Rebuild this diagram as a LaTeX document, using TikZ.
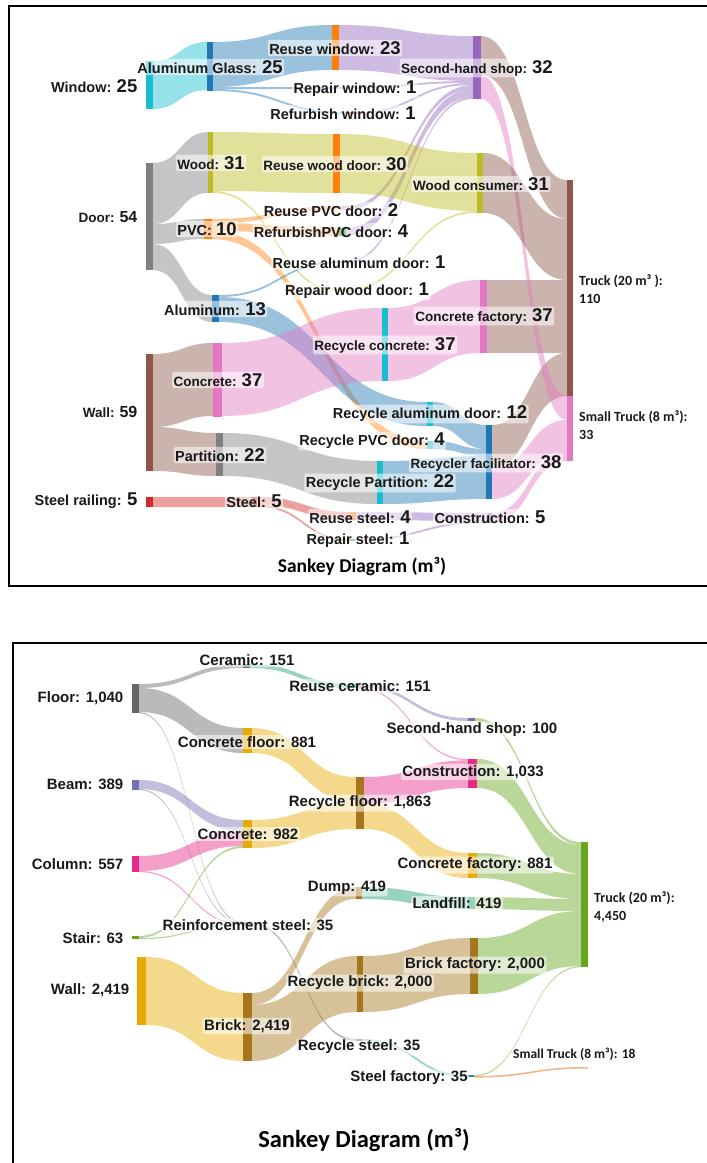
\documentclass[tikz,border=0pt]{standalone}
\usepackage{fontspec}
\setmainfont{Liberation Sans}
\newfontfamily\calib{Carlito}
\usetikzlibrary{fit}
\usepackage{xcolor}
\definecolor{cCyan}{RGB}{23,190,207}
\definecolor{cBlue}{RGB}{31,119,180}
\definecolor{cOrange}{RGB}{255,127,14}
\definecolor{cPurple}{RGB}{148,103,189}
\definecolor{cGray}{RGB}{127,127,127}
\definecolor{cOlive}{RGB}{188,189,34}
\definecolor{cGreen}{RGB}{44,160,44}
\definecolor{cBrown}{RGB}{140,86,75}
\definecolor{cPink}{RGB}{227,119,194}
\definecolor{cRed}{RGB}{214,39,40}
\definecolor{dGray}{RGB}{102,102,102}
\definecolor{dPurple}{RGB}{117,112,179}
\definecolor{dMagenta}{RGB}{231,41,138}
\definecolor{dGreen}{RGB}{102,166,30}
\definecolor{dGold}{RGB}{230,171,2}
\definecolor{dBrown}{RGB}{166,118,29}
\definecolor{dTeal}{RGB}{27,158,119}
\definecolor{dOrange}{RGB}{217,95,2}

% band from (x1, y1top..y1bot) to (x2, y2top..y2bot)
\newcommand{\flow}[7]{%
  \fill[#7] (#1,#2) .. controls ({(#1+#4)/2},#2) and ({(#1+#4)/2},#5) .. (#4,#5)
    -- (#4,#6) .. controls ({(#1+#4)/2},#6) and ({(#1+#4)/2},#3) .. (#1,#3) -- cycle;}
\newcommand{\vnum}[1]{{\fontsize{18.5}{19}\selectfont #1}}
\newcommand{\snum}[1]{{\fontsize{16}{17}\selectfont #1}}

\begin{document}
\begin{tikzpicture}[x=1pt, y=-1pt,
    bar/.style={inner sep=0pt, draw=none},
    lnk/.style={fill opacity=0.45},
    lbl/.style={font=\bfseries\fontsize{14.5}{16}\selectfont, inner sep=1.5pt, text=black!90},
    tag/.style={lbl, fill=white, fill opacity=0.55, text opacity=1, rounded corners=2pt},
    smaller/.style={font=\bfseries\fontsize{13.5}{15}\selectfont},
    lbb/.style={lbl, font=\bfseries\fontsize{15}{16}\selectfont},
    tagb/.style={tag, font=\bfseries\fontsize{15}{16}\selectfont},
    truck/.style={font=\calib\bfseries\fontsize{14}{18.5}\selectfont, align=left, inner sep=0pt, text=black!90},
    heading/.style={font=\calib\bfseries\fontsize{19.5}{21}\selectfont, text=black}
  ]
  \useasboundingbox (0,0) rectangle (707,1163);
  \draw[line width=1.5pt] (9,6) rectangle (712,586);
  \draw[line width=1.5pt] (13,643) rectangle (712,1170);

  % ---- top diagram: links
  \flow{153}{61}{109}{207}{42}{90}{lnk, fill=cCyan}
  \flow{213}{42}{87}{332}{25}{70}{lnk, fill=cBlue}
  \flow{213}{87}{89}{335}{87}{89}{lnk, fill=cBlue}
  \flow{213}{89}{91}{348}{112}{114}{lnk, fill=cBlue}
  \flow{339}{25}{70}{473}{36}{81}{lnk, fill=cPurple}
  \flow{341}{87}{89}{473}{81}{83}{lnk, fill=cPurple}
  \flow{355}{112}{114}{473}{83}{85}{lnk, fill=cPurple}
  \flow{346}{206}{210}{473}{85}{89}{lnk, fill=cPurple}
  \flow{346}{228}{236}{473}{89}{97}{lnk, fill=cPurple}
  \flow{346}{261}{263}{473}{97}{99}{lnk, fill=cPurple}
  \flow{153}{163}{224}{208}{132}{193}{lnk, fill=cGray}
  \flow{153}{224}{244}{204}{219}{239}{lnk, fill=cGray}
  \flow{153}{244}{270}{212}{295}{322}{lnk, fill=cGray}
  \flow{213}{132}{191}{333}{134}{193}{lnk, fill=cOlive}
  \flow{213}{191}{193}{338}{289}{291}{lnk, fill=cOlive}
  \flow{340}{134}{193}{477}{153}{211}{lnk, fill=cOlive}
  \flow{344}{289}{291}{477}{211}{213}{lnk, fill=cOlive}
  \flow{212}{219}{223}{340}{206}{210}{lnk, fill=cOrange}
  \flow{212}{223}{231}{338}{228}{236}{lnk, fill=cOrange}
  \flow{212}{231}{239}{427}{441}{449}{lnk, fill=cOrange}
  \flow{219}{295}{297}{340}{261}{263}{lnk, fill=cBlue}
  \flow{219}{297}{322}{427}{402}{426}{lnk, fill=cBlue}
  \flow{153}{354}{427}{213}{343}{416}{lnk, fill=cBrown}
  \flow{153}{427}{471}{216}{433}{476}{lnk, fill=cBrown}
  \flow{222}{343}{416}{382}{308}{381}{lnk, fill=cPink}
  \flow{388}{308}{381}{480}{280}{353}{lnk, fill=cPink}
  \flow{487}{280}{353}{567}{280}{353}{lnk, fill=cBrown}
  \flow{223}{433}{476}{377}{461}{504}{lnk, fill=cGray}
  \flow{383}{461}{504}{486}{456}{499}{lnk, fill=cBlue}
  \flow{433}{402}{426}{486}{425}{449}{lnk, fill=cBlue}
  \flow{433}{441}{449}{486}{449}{456}{lnk, fill=cBlue}
  \flow{492}{425}{468}{567}{353}{396}{lnk, fill=cBrown}
  \flow{492}{468}{499}{567}{420}{451}{lnk, fill=cPink}
  \flow{481}{36}{75}{567}{180}{219}{lnk, fill=cBrown}
  \flow{481}{75}{99}{567}{396}{420}{lnk, fill=cPink}
  \flow{483}{153}{213}{567}{219}{280}{lnk, fill=cBrown}
  \flow{492}{513}{523}{567}{451}{461}{lnk, fill=cPink}
  \flow{153}{497}{507}{252}{497}{507}{lnk, fill=cRed}
  \flow{257}{497}{505}{350}{512}{520}{lnk, fill=cRed}
  \flow{257}{505}{507}{350}{539}{541}{lnk, fill=cRed}
  \flow{356}{512}{520}{488}{513}{521}{lnk, fill=cPurple}
  \flow{355}{539}{541}{488}{521}{523}{lnk, fill=cPurple}

  % ---- top diagram: bars
  \node (window) [bar, fill=cCyan, fit={(146,61) (153,109)}] {};
  \node (alglass) [bar, fill=cBlue, fit={(207,42) (213,91)}] {};
  \node (reusewin) [bar, fill=cOrange, fit={(332,25) (339,70)}] {};
  \node (repairwin) [bar, fill=cBlue!40, fit={(335,87) (341,89)}] {};
  \node (refurbwin) [bar, fill=cRed, fit={(348,112) (355,114)}] {};
  \node (shop) [bar, fill=cPurple, fit={(473,36) (481,99)}] {};
  \node (door) [bar, fill=cGray, fit={(146,163) (153,270)}] {};
  \node (wood) [bar, fill=cOlive, fit={(208,132) (213,193)}] {};
  \node (pvc) [bar, fill=cOrange, fit={(204,219) (212,239)}] {};
  \node (reusewood) [bar, fill=cOrange, fit={(333,134) (340,193)}] {};
  \node (woodcons) [bar, fill=cOlive, fit={(477,153) (483,213)}] {};
  \node (reusepvc) [bar, fill=cPurple!50, fit={(340,206) (346,210)}] {};
  \node (refurbpvc) [bar, fill=cGreen, fit={(338,228) (346,236)}] {};
  \node (reusealu) [bar, fill=cBlue!60, fit={(340,261) (346,263)}] {};
  \node (repairwood) [bar, fill=cOlive, fit={(338,289) (344,291)}] {};
  \node (alu) [bar, fill=cBlue, fit={(212,295) (219,322)}] {};
  \node (wall) [bar, fill=cBrown, fit={(146,354) (153,471)}] {};
  \node (concrete) [bar, fill=cPink, fit={(213,343) (222,417)}] {};
  \node (partition) [bar, fill=cGray, fit={(216,433) (223,476)}] {};
  \node (reccon) [bar, fill=cCyan, fit={(382,308) (388,381)}] {};
  \node (confac) [bar, fill=cPink, fit={(480,280) (487,353)}] {};
  \node (truck) [bar, fill=cBrown, fit={(567,180) (573,396)}] {};
  \node (struck) [bar, fill=cPink, fit={(567,396) (573,461)}] {};
  \node (recalu) [bar, fill=cCyan, fit={(427,402) (433,426)}] {};
  \node (recpvc) [bar, fill=cCyan, fit={(427,441) (433,449)}] {};
  \node (recpart) [bar, fill=cCyan, fit={(377,461) (383,504)}] {};
  \node (recfac) [bar, fill=cBlue, fit={(486,425) (492,499)}] {};
  \node (railing) [bar, fill=cRed, fit={(146,497) (153,507)}] {};
  \node (steel) [bar, fill=cRed, fit={(252,497) (257,507)}] {};
  \node (reusesteel) [bar, fill=cOrange, fit={(350,512) (356,520)}] {};
  \node (repairsteel) [bar, fill=cGreen, fit={(350,539) (355,541)}] {};
  \node (constr) [bar, fill=cPurple, fit={(488,513) (492,523)}] {};

  % ---- top diagram: labels
  \node (lwindow) [lbl, anchor=east] at (139,86) {Window: \vnum{25}};
  \node (lalglass) [tag] at (210,67) {Aluminum Glass: \vnum{25}};
  \node (lreusewin) [tag] at (335,48) {Reuse window: \vnum{23}};
  \node (lrepairwin) [tag] at (355,89) {Repair window: \vnum{1}};
  \node (lrefurbwin) [tag] at (343,113) {Refurbish window: \vnum{1}};
  \node (lshop) [tag, smaller] at (477,68) {Second-hand shop: \vnum{32}};
  \node (ldoor) [lbl, smaller, anchor=east] at (139,217) {Door: \snum{54}};
  \node (lwood) [tag, smaller] at (211,163) {Wood: \vnum{31}};
  \node (lreusewood) [tag, smaller] at (335,164) {Reuse wood door: \vnum{30}};
  \node (lwoodcons) [tag, smaller] at (481,184) {Wood consumer: \vnum{31}};
  \node (lreusepvc) [tag] at (331,210) {Reuse PVC door: \vnum{2}};
  \node (lrefurbpvc) [tag] at (331,231) {RefurbishPVC door: \vnum{4}};
  \node (lpvc) [tag] at (207,229) {PVC: \vnum{10}};
  \node (lreusealu) [tag] at (359,262) {Reuse aluminum door: \vnum{1}};
  \node (lrepairwood) [tag] at (357,291) {Repair wood door: \vnum{1}};
  \node (lalu) [tag] at (215,309) {Aluminum: \vnum{13}};
  \node (lconfac) [tag, smaller] at (484,316) {Concrete factory: \vnum{37}};
  \node (lreccon) [tag, smaller] at (385,345) {Recycle concrete: \vnum{37}};
  \node (lwall) [lbl, smaller, anchor=east] at (139,412) {Wall: \snum{59}};
  \node (lconcrete) [tag, smaller] at (218,380) {Concrete: \vnum{37}};
  \node (lpartition) [tag] at (220,455) {Partition: \vnum{22}};
  \node (lrecalu) [tag] at (430,414) {Recycle aluminum door: \vnum{12}};
  \node (lrecpvc) [tag] at (372,441) {Recycle PVC door: \vnum{4}};
  \node (lrecfac) [tag, smaller] at (486,463) {Recycler facilitator: \vnum{38}};
  \node (lrecpart) [tag] at (380,483) {Recycle Partition: \vnum{22}};
  \node (lrailing) [lbl, anchor=east] at (139,501) {Steel railing: \vnum{5}};
  \node (lsteel) [tag] at (254,501) {Steel: \vnum{5}};
  \node (lreusesteel) [tag] at (360,517) {Reuse steel: \vnum{4}};
  \node (lconstr) [tag] at (490,517) {Construction: \vnum{5}};
  \node (lrepairsteel) [tag] at (358,540) {Repair steel: \vnum{1}};
  \node (ltruck) [truck, anchor=north west] at (579,274) {Truck (20 m³ ):\\110};
  \node (lstruck) [truck, anchor=north west] at (579,410) {Small Truck (8 m³):\\33};
  \node (title1) [heading] at (362,567) {Sankey Diagram (m³)};

  % ---- bottom diagram: links
  \flow{139}{684}{688}{243}{664}{668}{lnk, fill=dGray}
  \flow{139}{688}{712}{243}{728}{753}{lnk, fill=dGray}
  \flow{139}{712}{713.2}{243}{922}{923.2}{lnk, fill=dGray}
  \flow{250}{664}{668}{350}{684}{688}{lnk, fill=dTeal}
  \flow{356}{684}{687}{468}{718}{721}{lnk, fill=dPurple}
  \flow{356}{687}{688.3}{468}{759}{760.3}{lnk, fill=dMagenta}
  \flow{252}{728}{753}{356}{777}{802}{lnk, fill=dGold}
  \flow{139}{780}{789}{243}{820}{831}{lnk, fill=dPurple}
  \flow{139}{789}{790.2}{243}{923}{924.2}{lnk, fill=dPurple}
  \flow{139}{856}{871}{243}{831}{846}{lnk, fill=dMagenta}
  \flow{139}{871}{872.2}{243}{923.5}{924.7}{lnk, fill=dMagenta}
  \flow{139}{936}{938}{243}{846}{848}{lnk, fill=dGreen}
  \flow{139}{938}{939.2}{243}{924}{925.2}{lnk, fill=dGreen}
  \flow{252}{820}{848}{356}{802}{829}{lnk, fill=dGold}
  \flow{250}{922}{924}{356}{1039}{1041}{lnk, fill=dGray}
  \flow{364}{777}{804}{468}{760.3}{788}{lnk, fill=dMagenta}
  \flow{364}{804}{829}{468}{853}{878}{lnk, fill=dGold}
  \flow{146}{957}{1025}{243}{993}{1061}{lnk, fill=dGold}
  \flow{252}{993}{1005}{356}{887}{899}{lnk, fill=dBrown}
  \flow{252}{1005}{1061}{357}{956}{1012}{lnk, fill=dBrown}
  \flow{363}{956}{1012}{470}{938}{994}{lnk, fill=dBrown}
  \flow{362}{887}{899}{468}{897}{909}{lnk, fill=dTeal}
  \flow{362}{1039}{1041}{468}{1075}{1077}{lnk, fill=dTeal}
  \flow{475}{718}{721}{581}{842}{845}{lnk, fill=dGreen}
  \flow{477}{759}{788}{581}{845}{874}{lnk, fill=dGreen}
  \flow{477}{853}{878}{581}{874}{899}{lnk, fill=dGreen}
  \flow{475}{897}{909}{581}{899}{911}{lnk, fill=dGreen}
  \flow{478}{938}{994}{581}{911}{966}{lnk, fill=dGreen}
  \flow{474}{1075}{1076.2}{581}{966}{967.2}{lnk, fill=dGreen}
  \flow{474}{1076}{1077.6}{588}{1067}{1068.6}{lnk, fill=dOrange}

  % ---- bottom diagram: bars
  \node (floor) [bar, fill=dGray, fit={(132,684) (139,713)}] {};
  \node (ceramic) [bar, fill=dGray, fit={(243,664) (250,668)}] {};
  \node (concfloor) [bar, fill=dGold, fit={(243,728) (252,753)}] {};
  \node (beam) [bar, fill=dPurple, fit={(132,780) (139,790)}] {};
  \node (concrete2) [bar, fill=dGold, fit={(243,820) (252,848)}] {};
  \node (column) [bar, fill=dMagenta, fit={(132,856) (139,872)}] {};
  \node (stair) [bar, fill=dGreen, fit={(132,936) (139,939)}] {};
  \node (reinf) [bar, fill=dGray, fit={(243,922) (250,925)}] {};
  \node (wall2) [bar, fill=dGold, fit={(137,957) (146,1025)}] {};
  \node (brick) [bar, fill=dBrown, fit={(243,993) (252,1061)}] {};
  \node (reuseceramic) [bar, fill=dTeal, fit={(350,684) (356,688)}] {};
  \node (recfloor) [bar, fill=dBrown, fit={(356,777) (364,829)}] {};
  \node (dump) [bar, fill=dBrown, fit={(356,887) (362,899)}] {};
  \node (recbrick) [bar, fill=dBrown, fit={(357,956) (363,1012)}] {};
  \node (recsteel) [bar, fill=dGray, fit={(356,1039) (362,1041)}] {};
  \node (shop2) [bar, fill=dPurple, fit={(468,718) (475,721)}] {};
  \node (constr2) [bar, fill=dMagenta, fit={(468,759) (477,788)}] {};
  \node (concfac2) [bar, fill=dGold, fit={(468,853) (477,878)}] {};
  \node (landfill) [bar, fill=dTeal, fit={(468,897) (475,909)}] {};
  \node (brickfac) [bar, fill=dBrown, fit={(470,938) (478,994)}] {};
  \node (steelfac) [bar, fill=dTeal, fit={(468,1075) (474,1077)}] {};
  \node (truck2) [bar, fill=dGreen, fit={(581,842) (588,967)}] {};

  % ---- bottom diagram: labels
  \node (lfloor) [lbb, anchor=east] at (125,698) {Floor: 1,040};
  \node (lbeam) [lbb, anchor=east] at (125,784) {Beam: 389};
  \node (lcolumn) [lbb, anchor=east] at (125,864) {Column: 557};
  \node (lstair) [lbb, anchor=east] at (125,938) {Stair: 63};
  \node (lwall2) [lbb, anchor=east] at (131,990) {Wall: 2,419};
  \node (lceramic) [tagb] at (247,660) {Ceramic: 151};
  \node (lreuseceramic) [tagb] at (360,686) {Reuse ceramic: 151};
  \node (lshop2) [tagb] at (472,730) {Second-hand shop: 100};
  \node (lconcfloor) [tagb] at (247,742) {Concrete floor: 881};
  \node (lconstr2) [tagb] at (473,772) {Construction: 1,033};
  \node (lrecfloor) [tagb] at (360,803) {Recycle floor: 1,863};
  \node (lconcrete2) [tagb] at (248,834) {Concrete: 982};
  \node (lconcfac2) [tagb] at (475,865) {Concrete factory: 881};
  \node (ldump) [tagb] at (347,888) {Dump: 419};
  \node (llandfill) [tagb] at (457,903) {Landfill: 419};
  \node (lreinf) [tagb] at (248,925) {Reinforcement steel: 35};
  \node (lbrickfac) [tagb] at (475,965) {Brick factory: 2,000};
  \node (lrecbrick) [tagb] at (360,983) {Recycle brick: 2,000};
  \node (lbrick) [tagb] at (247,1026) {Brick: 2,419};
  \node (lrecsteel) [tagb] at (359,1047) {Recycle steel: 35};
  \node (lsteelfac) [tagb] at (409,1078) {Steel factory: 35};
  \node (lstruck2) [truck, font=\calib\bfseries\fontsize{13.5}{15}\selectfont, anchor=west] at (513,1054) {Small Truck (8 m³): 18};
  \node (ltruck2) [truck, anchor=north west] at (594,891) {Truck (20 m³):\\4,450};
  \node (title2) [heading, font=\calib\bfseries\fontsize{24.5}{26}\selectfont] at (364,1140) {Sankey Diagram (m³)};
\end{tikzpicture}
\end{document}
